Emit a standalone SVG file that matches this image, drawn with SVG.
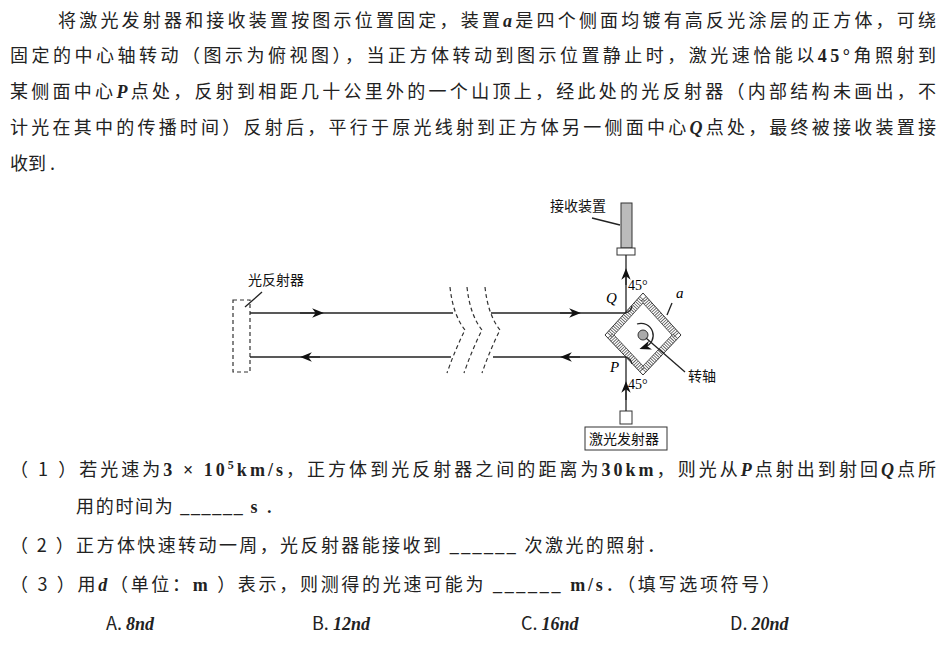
<svg xmlns="http://www.w3.org/2000/svg" width="946" height="652" viewBox="0 0 946 652">
<style>
.t{font-family:"Noto Sans CJK SC","Liberation Sans",sans-serif;font-size:18px;fill:#222}
.s{font-family:"Noto Sans CJK SC","Liberation Sans",sans-serif;font-size:14px;fill:#111}
.m{font-family:"Liberation Serif",serif;font-weight:bold;font-style:italic}
.b{font-family:"Liberation Serif",serif;font-weight:bold}
.ln{stroke:#222;stroke-width:1.3;fill:none}
.d{stroke:#333;stroke-width:1.2;fill:none;stroke-dasharray:4 3}
</style>
<defs><marker id="ar" viewBox="0 0 10 10" refX="5" refY="5" markerWidth="9" markerHeight="9" orient="auto"><path d="M0,1 L10,5 L0,9 L3,5Z" fill="#111"/></marker></defs>
<g id="text">
<text class="t" x="58" y="27" textLength="878" lengthAdjust="spacing">将激光发射器和接收装置按图示位置固定，装置<tspan class="m">a</tspan>是四个侧面均镀有高反光涂层的正方体，可绕</text>
<text class="t" x="10" y="62" textLength="926" lengthAdjust="spacing">固定的中心轴转动（图示为俯视图），当正方体转动到图示位置静止时，激光速恰能以<tspan class="b">45°</tspan>角照射到</text>
<text class="t" x="10" y="98" textLength="926" lengthAdjust="spacing">某侧面中心<tspan class="m">P</tspan>点处，反射到相距几十公里外的一个山顶上，经此处的光反射器（内部结构未画出，不</text>
<text class="t" x="10" y="134" textLength="926" lengthAdjust="spacing">计光在其中的传播时间）反射后，平行于原光线射到正方体另一侧面中心<tspan class="m">Q</tspan>点处，最终被接收装置接</text>
<text class="t" x="10" y="170">收到 .</text>
<text class="t" x="10" y="476" textLength="926" lengthAdjust="spacing">（ 1 ）若光速为<tspan class="b">3 × 10</tspan><tspan class="b" font-size="12" dy="-7">5</tspan><tspan class="b" dy="7">km/s</tspan>，正方体到光反射器之间的距离为<tspan class="b">30km</tspan>，则光从<tspan class="m">P</tspan>点射出到射回<tspan class="m">Q</tspan>点所</text>
<text class="t" x="76" y="513" textLength="207" lengthAdjust="spacing">用的时间为 <tspan class="b">______ s</tspan> ．</text>
<text class="t" x="10" y="552" textLength="655" lengthAdjust="spacing">（ 2 ）正方体快速转动一周，光反射器能接收到 <tspan class="b">______</tspan> 次激光的照射．</text>
<text class="t" x="10" y="591" textLength="770" lengthAdjust="spacing">（ 3 ）用<tspan class="m">d</tspan>（单位：<tspan class="b">m</tspan> ）表示，则测得的光速可能为 <tspan class="b">______ m/s</tspan>．（填写选项符号）</text>
<text class="t" x="106" y="630">A. <tspan class="m">8nd</tspan></text>
<text class="t" x="312" y="630">B. <tspan class="m">12nd</tspan></text>
<text class="t" x="521" y="630">C. <tspan class="m">16nd</tspan></text>
<text class="t" x="730" y="630">D. <tspan class="m">20nd</tspan></text>
</g>
<g id="reflector">
<rect x="233" y="300" width="17" height="72" class="d"/>
<text class="s" x="248" y="285">光反射器</text>
<line x1="262" y1="292" x2="245" y2="307" class="ln" stroke-width="1"/>
</g>
<g id="receiver">
<rect x="621" y="203" width="11" height="45" fill="#bbb" stroke="#333"/>
<rect x="617" y="248" width="18" height="7" fill="#fff" stroke="#333"/>
<text class="s" x="550" y="211">接收装置</text>
<line x1="592" y1="218" x2="620" y2="225" class="ln" stroke-width="1"/>
</g>
<g id="laser">
<rect x="620" y="411" width="12" height="13" fill="#fff" stroke="#333"/>
<rect x="585" y="427" width="82" height="23" fill="#fff" stroke="#333"/>
<text class="s" x="589" y="444">激光发射器</text>
</g>
<g id="cube">
<path d="M605,335 L643,293 L681,335 L643,375Z" fill="#fff" stroke="#333" stroke-width="1"/>
<path d="M609.5,335 L643,298 L676.5,335 L643,370.5Z" fill="none" stroke="#555" stroke-width="7" stroke-dasharray="0.8 1.4"/>
<path d="M614,335 L643,303 L672,335 L643,366Z" fill="#fff" stroke="#333" stroke-width="0.8"/>
<circle cx="643" cy="335" r="5" fill="#aaa" stroke="#333"/>
<path d="M637,324 A12,12 0 1 1 645,347" class="ln" stroke-width="1" marker-end="url(#ar)"/>
<line x1="646" y1="338" x2="685" y2="372" class="ln" stroke-width="1"/>
<text class="s" x="688" y="381">转轴</text>
<text x="676" y="298" font-family="Liberation Serif,serif" font-style="italic" font-size="15">a</text>
<line x1="667" y1="315" x2="672" y2="303" class="ln" stroke-width="1"/>
<text x="606" y="303" font-family="Liberation Serif,serif" font-style="italic" font-size="15">Q</text>
<text x="610" y="372" font-family="Liberation Serif,serif" font-style="italic" font-size="15">P</text>
<text x="628" y="290" font-family="Liberation Serif,serif" font-size="14">45°</text>
<text x="628" y="389" font-family="Liberation Serif,serif" font-size="14">45°</text>
</g>
<g id="connectors">
<path d="M626,313 A9,9 0 0 0 632,306" class="ln" stroke-width="1"/>
<path d="M626,357 A9,9 0 0 1 632,364" class="ln" stroke-width="1"/>
<line x1="250" y1="313" x2="453" y2="313" class="ln"/>
<line x1="491" y1="313" x2="626" y2="313" class="ln"/>
<line x1="250" y1="357" x2="451" y2="357" class="ln"/>
<line x1="493" y1="357" x2="626" y2="357" class="ln"/>
<line x1="626" y1="313" x2="626" y2="255" class="ln"/>
<line x1="626" y1="357" x2="626" y2="411" class="ln"/>
<line x1="300" y1="313" x2="318" y2="313" class="ln" marker-end="url(#ar)"/>
<line x1="320" y1="357" x2="306" y2="357" class="ln" marker-end="url(#ar)"/>
<line x1="560" y1="313" x2="575" y2="313" class="ln" marker-end="url(#ar)"/>
<line x1="580" y1="357" x2="566" y2="357" class="ln" marker-end="url(#ar)"/>
<line x1="626" y1="285" x2="626" y2="274" class="ln" marker-end="url(#ar)"/>
<line x1="626" y1="400" x2="626" y2="387" class="ln" marker-end="url(#ar)"/>
<path d="M450,287 Q453,315 465,330 Q455,350 447,373" class="d"/>
<path d="M467,287 Q470,315 482,330 Q472,350 464,373" class="d"/>
<path d="M485,287 Q488,315 500,330 Q490,350 482,373" class="d"/>
</g>
</svg>
